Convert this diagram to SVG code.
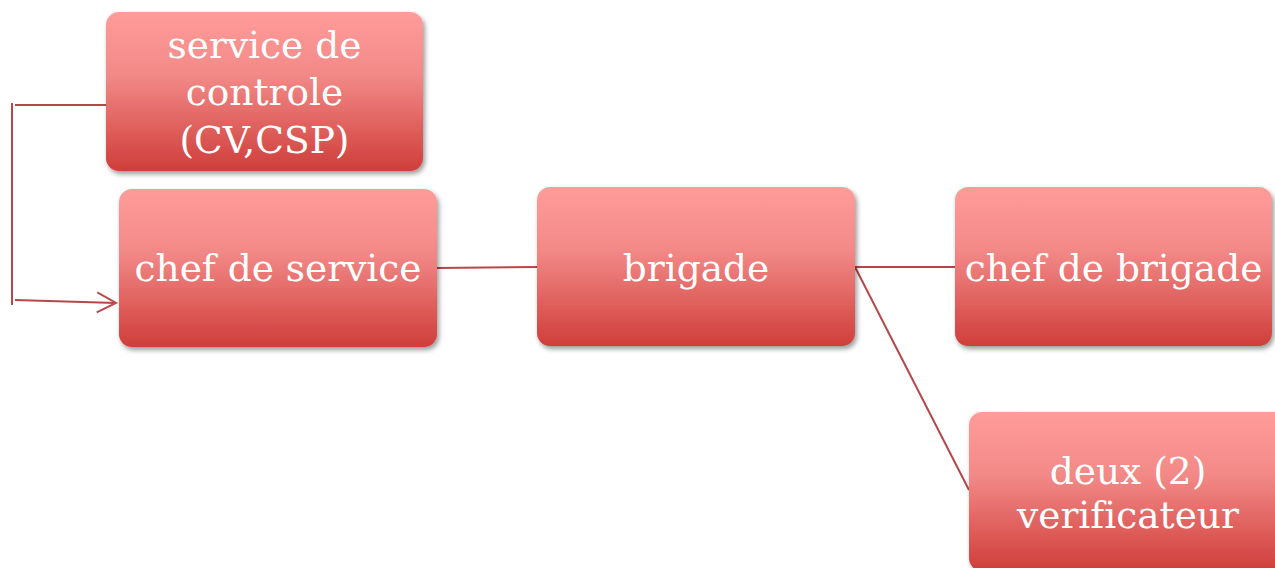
<svg xmlns="http://www.w3.org/2000/svg" width="1275" height="568" viewBox="0 0 1275 568">
  <defs>
    <linearGradient id="boxFill" x1="0" y1="0" x2="0" y2="1">
      <stop offset="0" stop-color="#FF9C9A"/>
      <stop offset="0.4" stop-color="#F28987"/>
      <stop offset="1" stop-color="#CF3E3A"/>
    </linearGradient>
    <filter id="shadow" x="-10%" y="-10%" width="125%" height="130%">
      <feGaussianBlur in="SourceAlpha" stdDeviation="2.5"/>
      <feOffset dx="2" dy="3" result="blur"/>
      <feComponentTransfer><feFuncA type="linear" slope="0.4"/></feComponentTransfer>
      <feMerge><feMergeNode/><feMergeNode in="SourceGraphic"/></feMerge>
    </filter>
    <marker id="openArrow" markerWidth="24" markerHeight="24" refX="20" refY="11" orient="auto" markerUnits="userSpaceOnUse">
      <path d="M1,1 L20,11 L1,21" fill="none" stroke="#C0484A" stroke-width="2"/>
    </marker>
  </defs>
  <style>
    .box { fill: url(#boxFill); filter: url(#shadow); }
    .label { font-family: "DejaVu Serif", "Liberation Serif", serif; font-size: 37.5px; fill: #FFFFFF; text-anchor: middle; font-variant-ligatures: none; }
    .link { fill: none; stroke: #B5474A; stroke-width: 2; }
  </style>

  <g id="connectors">
    <path class="link" d="M15,105 H106"/>
    <path class="link" d="M12,103 V305"/>
    <path class="link" d="M15,300 L116,303" marker-end="url(#openArrow)"/>
    <path class="link" d="M437,268 L537,267"/>
    <path class="link" d="M855,267 H955"/>
    <path class="link" d="M855,267 L969,490"/>
  </g>

  <g id="node-service-controle">
    <rect class="box" x="106" y="12" width="317" height="159" rx="13"/>
    <text class="label" x="264.5" y="58">service de</text>
    <text class="label" x="264.5" y="105">controle</text>
    <text class="label" x="264.5" y="153">(CV,CSP)</text>
  </g>

  <g id="node-chef-service">
    <rect class="box" x="119" y="189" width="318" height="158" rx="13"/>
    <text class="label" x="278" y="281">chef de service</text>
  </g>

  <g id="node-brigade">
    <rect class="box" x="537" y="187" width="318" height="159" rx="13"/>
    <text class="label" x="696" y="281">brigade</text>
  </g>

  <g id="node-chef-brigade">
    <rect class="box" x="955" y="187" width="317" height="159" rx="13"/>
    <text class="label" x="1113.5" y="281">chef de brigade</text>
  </g>

  <g id="node-verificateurs">
    <rect class="box" x="969" y="412" width="318" height="159" rx="13"/>
    <text class="label" x="1128" y="484">deux (2)</text>
    <text class="label" x="1128" y="528">verificateur</text>
  </g>
</svg>
